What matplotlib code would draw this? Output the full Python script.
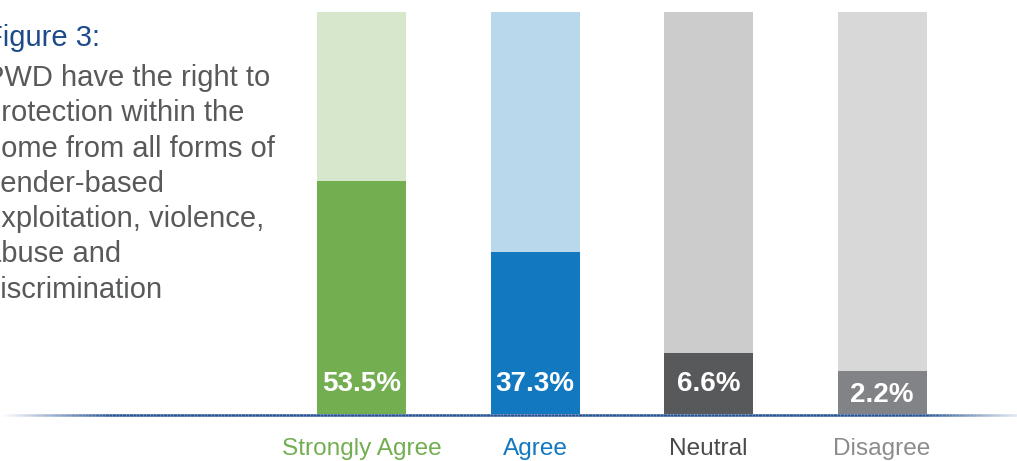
import numpy as np
import matplotlib
matplotlib.use("Agg")
import matplotlib.pyplot as plt
from matplotlib.collections import LineCollection

plt.rcParams['font.family'] = ['Liberation Sans', 'DejaVu Sans']

# ── datos ─────────────────────────────────────────────
categories = ["Strongly Agree", "Agree", "Neutral", "Disagree"]
percent = [53.5, 37.3, 6.6, 2.2]
# altura dibujada (las barras pequeñas tienen un mínimo para la etiqueta)
drawn_height = [53.5, 37.3, 14.0, 9.9]
full_height = 92.3

title_line = "Figure 3:"
title_body = ("PWD have the right to\nprotection within the\nhome from all forms of\n"
              "gender-based\nexploitation, violence,\nabuse and\ndiscrimination")

fg_colors = ["#73ae50", "#1278c0", "#58595b", "#828386"]
bg_colors = ["#d6e7cb", "#bad8ec", "#cbcccb", "#d8d8d8"]
lbl_colors = ["#73ae50", "#1278c0", "#4a4a4c", "#8c8c8e"]

W, H = 1017, 461
fig = plt.figure(figsize=(W / 100, H / 100), dpi=100)

# ejes: base en y=414px, tope en y=12px
step = 173.5
x0 = 361.5
ax = fig.add_axes([0, (H - 414) / H, 1, (414 - 12) / H])
ax.set_xlim(-x0 / step, (W - x0) / step)
ax.set_ylim(0, full_height)
ax.axis("off")

x = np.arange(len(categories))
bw = 89 / step
ax.bar(x, [full_height] * len(x), width=bw, color=bg_colors, linewidth=0)
ax.bar(x, drawn_height, width=bw, color=fg_colors, linewidth=0)

for i, (p, h) in enumerate(zip(percent, drawn_height)):
    y_lbl = min(6.8, h - 5.5)
    ax.text(x[i], y_lbl, f"{p}%", ha="center", va="center",
            color="white", fontsize=20, fontweight="bold")
    ax.text(x[i], -8.0, categories[i], ha="center", va="center",
            color=lbl_colors[i], fontsize=17.6, clip_on=False)

# línea base con degradado en los extremos
xs = np.linspace(0, W, 300)
alpha = np.ones_like(xs)
alpha = np.where(xs < 110, xs / 110, alpha)
alpha = np.where(xs > 920, 1 - 0.9 * (xs - 920) / (W - 920), alpha)
yb = (H - 414.5) / H
pts = np.column_stack([xs / W, np.full_like(xs, yb)])
segs = np.stack([pts[:-1], pts[1:]], axis=1)
cols = [(0.14, 0.32, 0.58, a) for a in alpha[:-1]]
lc = LineCollection(segs, colors=cols, linewidths=1.8, transform=fig.transFigure)
fig.add_artist(lc)

# texto del título (recortado a la izquierda)
tx = -15 / W
fig.text(tx, 1 - 38 / H, title_line, color="#1d4a8a", fontsize=21,
         ha="left", va="center")
fig.text(tx, 1 - 64 / H, title_body, color="#58595b", fontsize=21,
         ha="left", va="top", linespacing=1.33)

fig.savefig("out.png", dpi=100)
